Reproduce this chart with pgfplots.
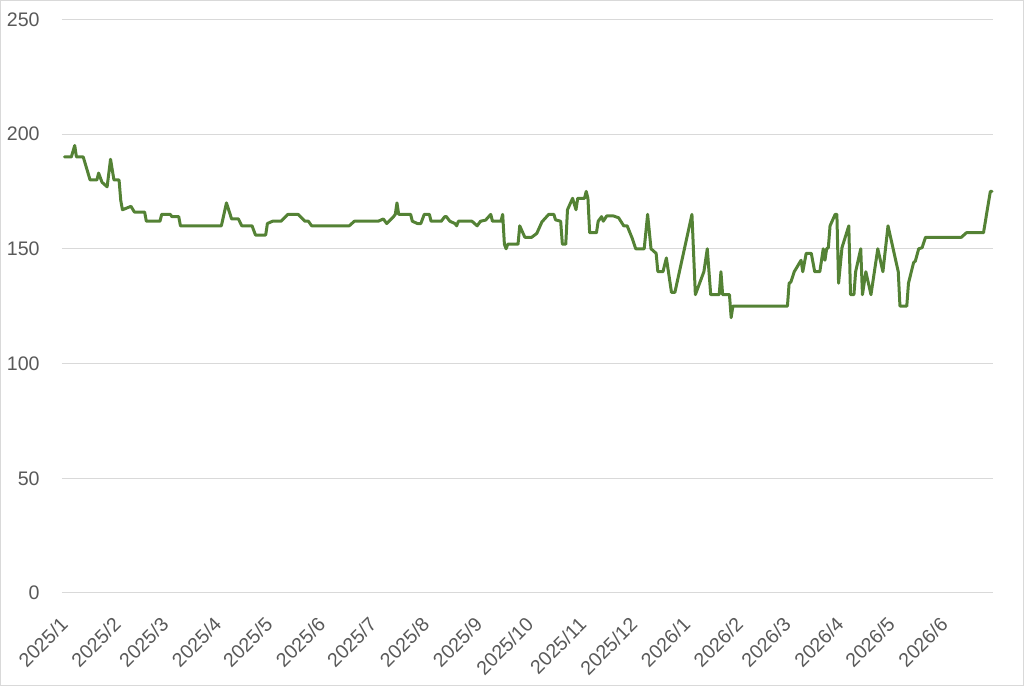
\documentclass[border=0pt]{standalone}
\usepackage{pgfplots}
\pgfplotsset{compat=1.18}
\usepackage{pgfplotstable}
\usepackage{fontspec}
\setmainfont{Liberation Sans}
\definecolor{linegreen}{RGB}{84,130,53}
\definecolor{gridgray}{RGB}{217,217,217}
\definecolor{labelgray}{RGB}{89,89,89}
\pgfplotstableread{
d v
0 190
4 190
6 195
7 190
11 190
15 180
19 180
20 183
22 179
25 177
27 189
29 180
32 180
33 171
34 167
39 168.5
41 166
47 166
48 162
56 162
57 165
62 165
63 164
67 164
68 160
92 160
95 170
98 163
102 163
104 160
110 160
112 156
118 156
119 161
122 162
127 162
131 165
137 165
141 162
143 162
145 160
167 160
170 162
184 162
187 163
189 161
193 164
194 165
195 170
196 165
203 165
204 162
207 161
209 161
211 165
214 165
215 162
221 162
223 164
224 164
226 162
229 161
230 160
231 162
239 162
242 160
244 162
247 162.5
250 165
251 162
256 162
257 165
258 152
259 150
260 152
266 152
267 160
270 155
274 155
277 156.7
280 161.7
284 165
287 165
288 162.6
291 162
292 152
294 152
295 167
298 172
300 167
301 172
305 172
306 175
307 172
308 157
312 157
313 162
315 164
316 162
318 164.3
322 164.3
325 163.5
328 160
330 160
333 154.5
335 150
340 150
342 165
344 150
347 148
348 140
351 140
353 146
356 131
358 131
368 165
370 130
375 140
377 150
379 130
384 130
385 140
386 130
390 130
391 120
392 125
424 125
425 135
426 135.5
428 140
432 145
433 140
435 148
438 148
440 140
443 140
445 150
446 145
447 150
448 150.5
449 160
452 165
453 165
454 135
456 150.5
460 160
461 130
463 130
464 140
467 150
468 130
470 140
473 130
477 150
480 140
483 160
489 140
490 125
494 125
495 135
498 144
499 144.6
501 150
503 150.5
505 155
526 155
529 157
539 157
543 175
544 175
}\pricedata
\begin{document}
\begin{tikzpicture}
\begin{axis}[
  at={(0,0)}, anchor=south west,
  scale only axis,
  width=465.5pt, height=286.85pt,
  xmin=-1.466, xmax=544.57,
  ymin=0, ymax=250,
  ytick={0,50,100,150,200,250},
  xtick={0,31,59,90,120,151,181,212,243,273,304,334,365,396,424,455,485,516},
  xticklabels={2025/1,2025/2,2025/3,2025/4,2025/5,2025/6,2025/7,2025/8,2025/9,2025/10,2025/11,2025/12,2026/1,2026/2,2026/3,2026/4,2026/5,2026/6},
  axis line style={draw=none},
  major tick length=0pt,
  ymajorgrids,
  grid style={gridgray, line width=0.5pt},
  /pgf/number format/assume math mode=true,
  tick label style={font=\fontsize{9.8}{11.8}\selectfont, text=labelgray},
  yticklabel style={anchor=east, inner sep=0pt, xshift=-11pt},
  xticklabel style={inner sep=0pt, yshift=-14pt, xshift=0pt, rotate=45, anchor=east},
  clip=false,
]
\addplot[linegreen, line width=1.5pt, line join=round, line cap=round] table[x=d, y=v] {\pricedata};
\end{axis}
\pgfresetboundingbox
\path[use as bounding box] (-31pt,-46.5pt) rectangle (481pt,296.5pt);
\draw[gridgray, line width=0.6pt] (-30.6pt,-46.1pt) rectangle (480.6pt,296.1pt);
\end{tikzpicture}
\end{document}
